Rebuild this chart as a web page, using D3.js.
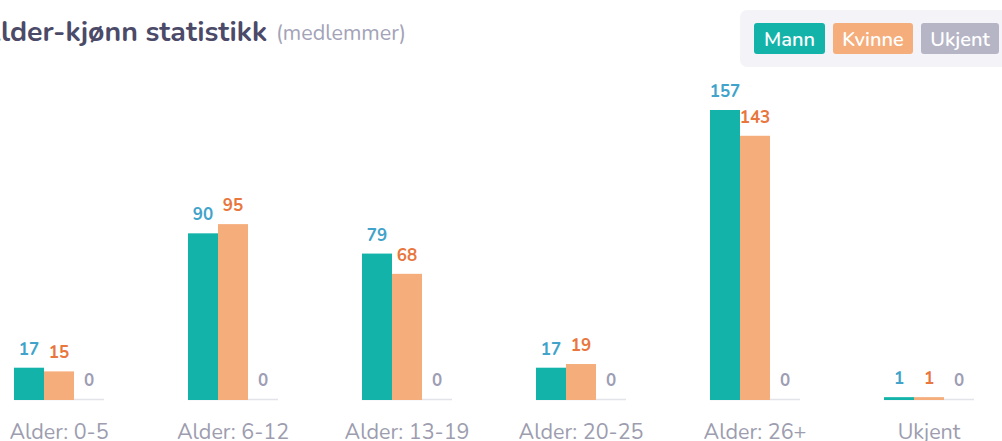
<!DOCTYPE html>
<html><head><meta charset="utf-8">
<script src="https://cdn.jsdelivr.net/npm/d3@7"></script>
<style>
html,body{margin:0;padding:0;background:#fff;overflow:hidden}
svg{display:block}
text{font-family:"Nunito","Noto Sans",sans-serif}
</style></head>
<body>
<svg id="c" width="1002" height="441"></svg>
<script>
const categories = ["Alder: 0-5","Alder: 6-12","Alder: 13-19","Alder: 20-25","Alder: 26+","Ukjent"];
const seriesNames = ["Mann","Kvinne","Ukjent"];
const mann = [17, 90, 79, 17, 157, 1];
const kvinne = [15, 95, 68, 19, 143, 1];
const ukjent = [0, 0, 0, 0, 0, 0];
const seriesValues = [mann, kvinne, ukjent];

const barColors = ["#14b3a9", "#f5ad7b", "#b5b5c6"];
const labelColors = ["#41a3c9", "#e8763d", "#9d9db4"];

const svg = d3.select("#c");
const baseY = 399;
const x = d3.scaleBand().domain(categories).range([-28, 1016])
  .paddingInner(84/174).paddingOuter(42/174);
const xs = d3.scaleBand().domain(seriesNames).range([0, x.bandwidth()]);
const y = d3.scaleLinear().domain([0, 157]).range([baseY, 110]);

// title
const title = svg.append("text").attr("x", 0).attr("y", 41)
  .attr("font-size", 28.5).attr("font-weight", 700).attr("fill", "#4b4a68");
title.append("tspan").text("Alder-kjønn statistikk");
const aW = title.node().getSubStringLength(0, 1);
title.attr("x", -aW + 1);
svg.append("text").attr("x", 276).attr("y", 40)
  .attr("font-size", 21.5).attr("fill", "#a3a3b8").text("(medlemmer)");

// legend
svg.append("rect").attr("x", 740).attr("y", 10).attr("width", 280).attr("height", 57)
  .attr("rx", 7).attr("fill", "#f4f4f8");
const legItems = [{n:"Mann",x:754,w:71},{n:"Kvinne",x:833,w:80},{n:"Ukjent",x:921,w:78}];
legItems.forEach((d,i)=>{
  svg.append("rect").attr("x", d.x).attr("y", 23).attr("width", d.w).attr("height", 31)
    .attr("rx", 3).attr("fill", barColors[i]);
  svg.append("text").attr("x", d.x + d.w/2).attr("y", 46).attr("text-anchor","middle")
    .attr("font-size", 20).attr("font-weight", 600).attr("fill", "#fff").text(d.n);
});

// bars
const g = svg.append("g");
categories.forEach((c, ci) => {
  const gx = x(c);
  g.append("line").attr("x1", gx).attr("x2", gx + x.bandwidth())
    .attr("y1", baseY + 0.5).attr("y2", baseY + 0.5)
    .attr("stroke", "#e3e3ea").attr("stroke-width", 1.5);
  seriesNames.forEach((s, si) => {
    const v = seriesValues[si][ci];
    const bx = gx + xs(s);
    if (v > 0) {
      g.append("rect").attr("x", bx).attr("y", y(v))
        .attr("width", xs.bandwidth()).attr("height", baseY - y(v) + 1)
        .attr("fill", barColors[si]);
    }
    g.append("text").attr("x", bx + xs.bandwidth()/2).attr("y", y(v) - 13)
      .attr("text-anchor", "middle").attr("font-size", 17).attr("font-weight", 700)
      .attr("fill", labelColors[si]).text(v);
  });
  g.append("text").attr("x", gx + x.bandwidth()/2).attr("y", 439)
    .attr("text-anchor", "middle").attr("font-size", 21.5).attr("fill", "#9d9daf").text(c);
});
</script>
</body></html>
